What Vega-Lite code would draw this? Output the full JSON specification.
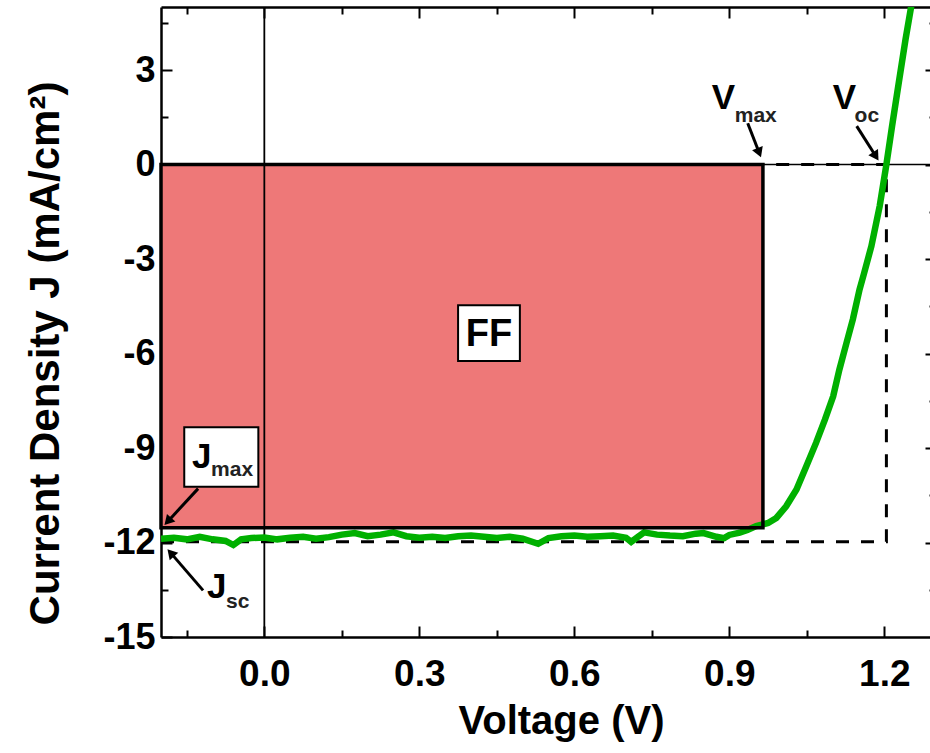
{
  "$schema": "https://vega.github.io/schema/vega-lite/v6.json",
  "autosize": {"type": "none"},
  "padding": {"left": 161, "top": 7, "right": -6, "bottom": 116},
  "width": 775,
  "height": 630,
  "background": "white",
  "config": {
    "view": {"stroke": null},
    "axis": {"grid": false, "domainColor": "black", "tickColor": "black", "labelColor": "black", "titleColor": "black", "labelFont": "Liberation Sans", "titleFont": "Liberation Sans", "labelFontWeight": "bold", "titleFontWeight": "bold"}
  },
  "datasets": {
    "curve": [
      {"V": -0.2, "J": -11.88}, {"V": -0.175, "J": -11.85}, {"V": -0.15, "J": -11.9}, {"V": -0.125, "J": -11.82},
      {"V": -0.1, "J": -11.9}, {"V": -0.075, "J": -11.95}, {"V": -0.06, "J": -12.08}, {"V": -0.045, "J": -11.9},
      {"V": -0.025, "J": -11.86}, {"V": 0.0, "J": -11.84}, {"V": 0.025, "J": -11.9}, {"V": 0.05, "J": -11.85},
      {"V": 0.075, "J": -11.82}, {"V": 0.1, "J": -11.88}, {"V": 0.125, "J": -11.83}, {"V": 0.15, "J": -11.75},
      {"V": 0.175, "J": -11.7}, {"V": 0.2, "J": -11.8}, {"V": 0.225, "J": -11.75}, {"V": 0.25, "J": -11.68},
      {"V": 0.275, "J": -11.8}, {"V": 0.3, "J": -11.85}, {"V": 0.325, "J": -11.82}, {"V": 0.35, "J": -11.86},
      {"V": 0.375, "J": -11.8}, {"V": 0.4, "J": -11.78}, {"V": 0.425, "J": -11.82}, {"V": 0.45, "J": -11.86},
      {"V": 0.475, "J": -11.82}, {"V": 0.5, "J": -11.88}, {"V": 0.53, "J": -12.04}, {"V": 0.55, "J": -11.86},
      {"V": 0.575, "J": -11.8}, {"V": 0.6, "J": -11.78}, {"V": 0.625, "J": -11.82}, {"V": 0.65, "J": -11.8},
      {"V": 0.675, "J": -11.78}, {"V": 0.7, "J": -11.85}, {"V": 0.71, "J": -11.98}, {"V": 0.725, "J": -11.8},
      {"V": 0.735, "J": -11.68}, {"V": 0.76, "J": -11.75}, {"V": 0.785, "J": -11.78}, {"V": 0.81, "J": -11.8},
      {"V": 0.835, "J": -11.72}, {"V": 0.85, "J": -11.7}, {"V": 0.875, "J": -11.82}, {"V": 0.89, "J": -11.86},
      {"V": 0.9, "J": -11.76}, {"V": 0.92, "J": -11.69}, {"V": 0.935, "J": -11.6}, {"V": 0.952, "J": -11.48},
      {"V": 0.975, "J": -11.38}, {"V": 0.991, "J": -11.22}, {"V": 1.01, "J": -10.85}, {"V": 1.03, "J": -10.32},
      {"V": 1.049, "J": -9.58}, {"V": 1.068, "J": -8.83}, {"V": 1.085, "J": -8.1}, {"V": 1.101, "J": -7.36},
      {"V": 1.113, "J": -6.51}, {"V": 1.127, "J": -5.65}, {"V": 1.139, "J": -4.92}, {"V": 1.152, "J": -3.97},
      {"V": 1.16, "J": -3.5}, {"V": 1.175, "J": -2.59}, {"V": 1.191, "J": -1.32}, {"V": 1.204, "J": 0.0},
      {"V": 1.215, "J": 1.22}, {"V": 1.228, "J": 2.6}, {"V": 1.241, "J": 3.97}, {"V": 1.252, "J": 5.02},
      {"V": 1.26, "J": 6.0}
    ],
    "area": [{"V1": -0.2, "V2": 0.965, "J1": 0, "J2": -11.53}],
    "dash": [
      {"o": 1, "V": -0.2, "J": -11.98}, {"o": 2, "V": 1.204, "J": -11.98},
      {"o": 3, "V": 1.204, "J": 0}, {"o": 4, "V": 0.965, "J": 0}
    ],
    "boxes": [
      {"name": "FF", "V1": 0.375, "V2": 0.4946, "J1": -4.47, "J2": -6.24},
      {"name": "Jmax", "V1": -0.155, "V2": -0.0116, "J1": -8.34, "J2": -10.23}
    ],
    "big": [
      {"text": "J", "V": -0.1398, "J": -9.62},
      {"text": "J", "V": -0.1108, "J": -13.75},
      {"text": "V", "V": 0.866, "J": 1.757},
      {"text": "V", "V": 1.1, "J": 1.757}
    ],
    "small": [
      {"text": "max", "V": -0.103, "J": -9.9},
      {"text": "sc", "V": -0.074, "J": -14.07},
      {"text": "max", "V": 0.9104, "J": 1.34},
      {"text": "oc", "V": 1.1424, "J": 1.34}
    ],
    "arrows": [
      {"arrow": "Jmax", "o": 1, "V": -0.1282, "J": -10.29}, {"arrow": "Jmax", "o": 2, "V": -0.1868, "J": -11.33},
      {"arrow": "Jsc", "o": 1, "V": -0.1186, "J": -13.52}, {"arrow": "Jsc", "o": 2, "V": -0.1812, "J": -12.33},
      {"arrow": "Vmax", "o": 1, "V": 0.9356, "J": 1.312}, {"arrow": "Vmax", "o": 2, "V": 0.9578, "J": 0.375},
      {"arrow": "Voc", "o": 1, "V": 1.1465, "J": 1.217}, {"arrow": "Voc", "o": 2, "V": 1.1836, "J": 0.26}
    ]
  },
  "layer": [
    {
      "data": {"name": "area"},
      "mark": {"type": "rect", "fill": "#ee7878", "stroke": null},
      "encoding": {
        "x": {"field": "V1", "type": "quantitative", "scale": {"domain": [-0.2, 1.3], "nice": false, "zero": false},
          "axis": {"orient": "bottom", "values": [0, 0.3, 0.6, 0.9, 1.2], "labelExpr": "format(datum.value, '.1f')",
            "tickSize": -11, "tickWidth": 2, "domainWidth": 2.5, "labelFontSize": 37, "labelPadding": 30,
            "title": "Voltage (V)", "titleFontSize": 40, "titleX": 400, "titleY": 84, "titleBaseline": "middle"}},
        "x2": {"field": "V2"},
        "y": {"field": "J1", "type": "quantitative", "scale": {"domain": [-15, 5], "nice": false, "zero": false},
          "axis": {"orient": "left", "values": [3, 0, -3, -6, -9, -12, -15], "labelExpr": "'' + datum.value",
            "tickSize": -11, "tickWidth": 2, "domainWidth": 2.5, "labelFontSize": 36, "labelPadding": 17,
            "title": "Current Density J (mA/cm²)", "titleFontSize": 42, "titleX": -116, "titleY": 346, "titleBaseline": "middle", "titleAngle": -90}},
        "y2": {"field": "J2"}
      }
    },
    {
      "data": {"values": [{"V": 0}]},
      "mark": {"type": "rule", "color": "black", "strokeWidth": 1.8},
      "encoding": {
        "x": {"field": "V", "type": "quantitative", "scale": {"domain": [-0.2, 1.3], "nice": false, "zero": false},
          "axis": {"orient": "bottom", "values": [-0.15, 0.15, 0.45, 0.75, 1.05], "labels": false, "domain": false, "tickSize": -7, "tickWidth": 2, "title": null}}
      }
    },
    {
      "data": {"values": [{"J": 0}]},
      "mark": {"type": "rule", "color": "black", "strokeWidth": 1.5},
      "encoding": {
        "y": {"field": "J", "type": "quantitative", "scale": {"domain": [-15, 5], "nice": false, "zero": false},
          "axis": {"orient": "left", "values": [4.5, 1.5, -1.5, -4.5, -7.5, -10.5, -13.5], "labels": false, "domain": false, "tickSize": -7, "tickWidth": 2, "title": null}}
      }
    },
    {
      "data": {"name": "dash"},
      "mark": {"type": "line", "color": "black", "strokeWidth": 3, "strokeDash": [13, 12]},
      "encoding": {
        "x": {"field": "V", "type": "quantitative", "scale": {"domain": [-0.2, 1.3], "nice": false, "zero": false},
          "axis": {"orient": "top", "values": [0, 0.3, 0.6, 0.9, 1.2], "labels": false, "tickSize": -11, "tickWidth": 2, "domainWidth": 2.5, "title": null}},
        "y": {"field": "J", "type": "quantitative", "scale": {"domain": [-15, 5], "nice": false, "zero": false},
          "axis": {"orient": "right", "values": [3, 0, -3, -6, -9, -12], "labels": false, "tickSize": -11, "tickWidth": 2, "domainWidth": 2.5, "title": null}},
        "order": {"field": "o"}
      }
    },
    {
      "data": {"name": "curve"},
      "mark": {"type": "line", "color": "#00b000", "strokeWidth": 6.5, "clip": true},
      "encoding": {
        "x": {"field": "V", "type": "quantitative", "scale": {"domain": [-0.2, 1.3], "nice": false, "zero": false},
          "axis": {"orient": "top", "values": [-0.15, 0.15, 0.45, 0.75, 1.05], "labels": false, "domain": false, "tickSize": -7, "tickWidth": 2, "title": null}},
        "y": {"field": "J", "type": "quantitative", "scale": {"domain": [-15, 5], "nice": false, "zero": false},
          "axis": {"orient": "right", "values": [4.5, 1.5, -1.5, -4.5, -7.5, -10.5, -13.5], "labels": false, "domain": false, "tickSize": -7, "tickWidth": 2, "title": null}}
      }
    },
    {
      "data": {"name": "area"},
      "mark": {"type": "rect", "fill": null, "fillOpacity": 0, "stroke": "black", "strokeWidth": 3.5},
      "encoding": {
        "x": {"field": "V1", "type": "quantitative", "axis": null},
        "x2": {"field": "V2"},
        "y": {"field": "J1", "type": "quantitative", "axis": null},
        "y2": {"field": "J2"}
      }
    },
    {
      "data": {"name": "boxes"},
      "mark": {"type": "rect", "fill": "white", "stroke": "black", "strokeWidth": 2},
      "encoding": {
        "x": {"field": "V1", "type": "quantitative", "axis": null},
        "x2": {"field": "V2"},
        "y": {"field": "J1", "type": "quantitative", "axis": null},
        "y2": {"field": "J2"}
      }
    },
    {
      "data": {"values": [{"text": "FF", "V": 0.435, "J": -5.36}]},
      "mark": {"type": "text", "font": "Liberation Sans", "fontWeight": "bold", "fontSize": 38, "align": "center", "baseline": "middle", "color": "black", "dy": 2},
      "encoding": {
        "x": {"field": "V", "type": "quantitative", "axis": null},
        "y": {"field": "J", "type": "quantitative", "axis": null},
        "text": {"field": "text"}
      }
    },
    {
      "data": {"name": "big"},
      "mark": {"type": "text", "font": "Liberation Sans", "fontWeight": "bold", "fontSize": 35, "align": "left", "baseline": "alphabetic", "color": "black"},
      "encoding": {
        "x": {"field": "V", "type": "quantitative", "axis": null},
        "y": {"field": "J", "type": "quantitative", "axis": null},
        "text": {"field": "text"}
      }
    },
    {
      "data": {"name": "small"},
      "mark": {"type": "text", "font": "Liberation Sans", "fontWeight": "bold", "fontSize": 21, "align": "left", "baseline": "alphabetic", "color": "#222222"},
      "encoding": {
        "x": {"field": "V", "type": "quantitative", "axis": null},
        "y": {"field": "J", "type": "quantitative", "axis": null},
        "text": {"field": "text"}
      }
    },
    {
      "data": {"name": "arrows"},
      "mark": {"type": "line", "color": "black", "strokeWidth": 3},
      "encoding": {
        "x": {"field": "V", "type": "quantitative", "axis": null},
        "y": {"field": "J", "type": "quantitative", "axis": null},
        "detail": {"field": "arrow"},
        "order": {"field": "o"}
      }
    },
    {
      "data": {"name": "arrows"},
      "transform": [{"filter": "datum.arrow == 'Jmax' && datum.o == 2"}],
      "mark": {"type": "point", "shape": "triangle-up", "filled": true, "color": "black", "size": 130, "angle": 222.6, "opacity": 1},
      "encoding": {"x": {"field": "V", "type": "quantitative", "axis": null}, "y": {"field": "J", "type": "quantitative", "axis": null}}
    },
    {
      "data": {"name": "arrows"},
      "transform": [{"filter": "datum.arrow == 'Jsc' && datum.o == 2"}],
      "mark": {"type": "point", "shape": "triangle-up", "filled": true, "color": "black", "size": 130, "angle": 318.6, "opacity": 1},
      "encoding": {"x": {"field": "V", "type": "quantitative", "axis": null}, "y": {"field": "J", "type": "quantitative", "axis": null}}
    },
    {
      "data": {"name": "arrows"},
      "transform": [{"filter": "datum.arrow == 'Vmax' && datum.o == 2"}],
      "mark": {"type": "point", "shape": "triangle-up", "filled": true, "color": "black", "size": 130, "angle": 158.8, "opacity": 1},
      "encoding": {"x": {"field": "V", "type": "quantitative", "axis": null}, "y": {"field": "J", "type": "quantitative", "axis": null}}
    },
    {
      "data": {"name": "arrows"},
      "transform": [{"filter": "datum.arrow == 'Voc' && datum.o == 2"}],
      "mark": {"type": "point", "shape": "triangle-up", "filled": true, "color": "black", "size": 130, "angle": 147.4, "opacity": 1},
      "encoding": {"x": {"field": "V", "type": "quantitative", "axis": null}, "y": {"field": "J", "type": "quantitative", "axis": null}}
    }
  ],
  "resolve": {"axis": {"x": "independent", "y": "independent"}}
}
